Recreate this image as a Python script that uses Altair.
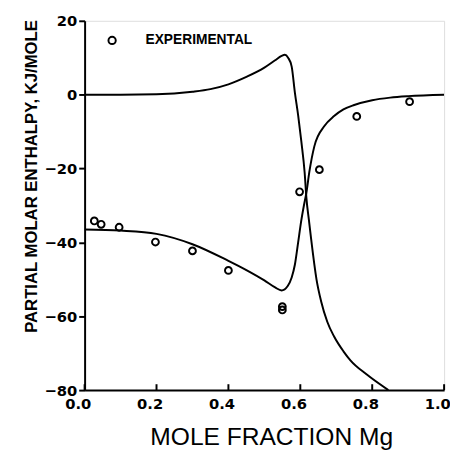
import altair as alt
import pandas as pd

# Curve 1 (starts at 0, peaks, plunges)
curve_a_x = [0.0, 0.1, 0.2, 0.3, 0.35, 0.4, 0.45, 0.5, 0.53, 0.548, 0.557, 0.566, 0.576, 0.585, 0.594, 0.603, 0.612, 0.617, 0.624, 0.63, 0.645, 0.658, 0.675, 0.694, 0.72, 0.74, 0.785, 0.845]
curve_a_y = [0.0, 0.0, 0.1, 0.8, 1.5, 2.8, 4.8, 7.3, 9.3, 10.5, 10.8, 10.0, 7.6, 0.5, -5.6, -12.8, -21.0, -28.0, -34.0, -39.0, -50.0, -56.0, -61.5, -65.5, -69.5, -72.0, -75.8, -80.0]

# Curve 2 (starts near -36.5, dips, rises to 0)
curve_b_x = [0.0, 0.1, 0.2, 0.3, 0.4, 0.45, 0.5, 0.53, 0.548, 0.565, 0.576, 0.585, 0.594, 0.602, 0.61, 0.617, 0.625, 0.639, 0.667, 0.694, 0.72, 0.75, 0.8, 0.85, 0.9, 1.0]
curve_b_y = [-36.5, -36.8, -37.7, -40.5, -45.0, -47.5, -50.3, -52.2, -53.0, -51.8, -49.5, -46.0, -40.0, -34.5, -30.0, -26.5, -21.0, -14.0, -8.5, -5.8, -4.0, -2.8, -1.5, -0.8, -0.4, 0.0]

# Experimental points
exp_x = [0.027, 0.046, 0.096, 0.197, 0.30, 0.40, 0.55, 0.55, 0.598, 0.653, 0.757, 0.904]
exp_y = [-34.2, -35.1, -35.9, -39.9, -42.3, -47.6, -57.4, -58.3, -26.3, -20.3, -5.9, -1.9]

x_ticks = [0.0, 0.2, 0.4, 0.6, 0.8, 1.0]
y_ticks = [-80, -60, -40, -20, 0, 20]

curves = pd.concat([
    pd.DataFrame({"x": curve_a_x, "y": curve_a_y, "curve": "A"}),
    pd.DataFrame({"x": curve_b_x, "y": curve_b_y, "curve": "B"}),
])
points = pd.DataFrame({"x": exp_x, "y": exp_y, "series": "EXPERIMENTAL"})
ticks = pd.DataFrame({"x": x_ticks})

xscale = alt.Scale(domain=[0, 1], nice=False, zero=False)
yscale = alt.Scale(domain=[-80, 20], nice=False, zero=False)

xaxis = alt.Axis(
    values=x_ticks, format=".1f", title="MOLE FRACTION Mg",
    labelFont="DejaVu Sans", labelFontWeight="bold", labelFontSize=15, labelColor="black",
    labelPadding=7, labelOffset=-7, tickSize=0, grid=False, domainColor="black", domainWidth=2,
    titleFont="Liberation Sans", titleFontWeight="normal", titleFontSize=25, titleColor="black",
    titleX=190, titleY=47, titleBaseline="middle", titleAlign="center",
    labelFlush=False, labelOverlap=False,
)
yaxis = alt.Axis(
    values=y_ticks, title="PARTIAL MOLAR ENTHALPY, KJ/MOLE",
    labelFont="DejaVu Sans", labelFontWeight="bold", labelFontSize=15, labelColor="black",
    labelPadding=2, tickSize=6, tickColor="black", tickWidth=2, grid=False,
    domainColor="black", domainWidth=2,
    titleFont="Liberation Sans", titleFontWeight="bold", titleFontSize=17, titleColor="black",
    titleX=-54, titleY=158, titleBaseline="middle", titleAlign="center", titleAngle=270,
    labelFlush=False, labelOverlap=False,
)

lines = alt.Chart(curves).mark_line(color="black", strokeWidth=2, interpolate="monotone", clip=True).encode(
    x=alt.X("x:Q", scale=xscale, axis=xaxis),
    y=alt.Y("y:Q", scale=yscale, axis=yaxis),
    detail="curve:N",
    order="x:Q",
)

pts = alt.Chart(points).mark_point(filled=False, color="black", strokeWidth=2, size=48, opacity=1).encode(
    x=alt.X("x:Q", scale=xscale),
    y=alt.Y("y:Q", scale=yscale),
    shape=alt.Shape(
        "series:N",
        scale=alt.Scale(range=["circle"]),
        legend=alt.Legend(
            title=None, orient="none", legendX=21, legendY=13, padding=0,
            labelFont="Liberation Sans", labelFontWeight="bold", labelFontSize=14, labelColor="black",
            labelOffset=27, symbolSize=55, symbolStrokeWidth=2, symbolStrokeColor="black",
            symbolFillColor="white", symbolType="circle",
        ),
    ),
)

xticks = alt.Chart(ticks).mark_rule(color="black", strokeWidth=2).encode(
    x=alt.X("x:Q", scale=xscale),
    y=alt.value(376),
    y2=alt.value(370),
)

chart = alt.layer(lines, pts, xticks).properties(
    width=366, height=376,
    autosize=alt.AutoSizeParams(type="none"),
    padding={"left": 78, "top": 9, "right": 6, "bottom": 60},
).configure_view(stroke="black", strokeWidth=2).configure(background="white")

chart.save("out.html", embed_options={"renderer": "svg", "actions": False})
